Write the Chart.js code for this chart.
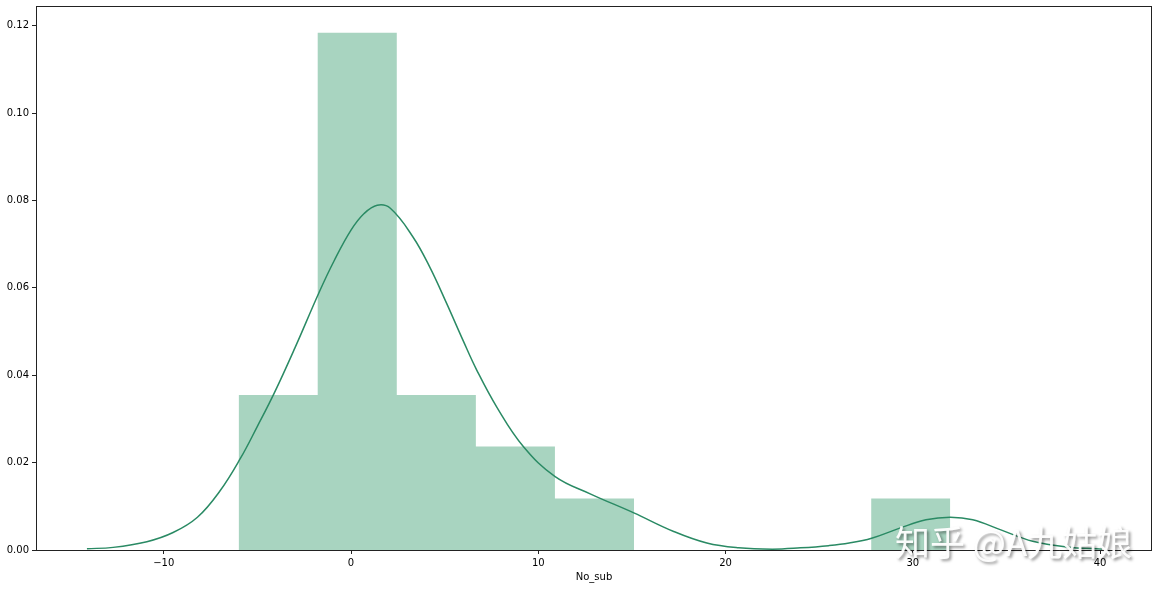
<!DOCTYPE html>
<html>
<head>
<meta charset="utf-8">
<script src="https://cdn.jsdelivr.net/npm/chart.js@4/dist/chart.umd.min.js"></script>
<style>
    html, body { margin: 0; padding: 0; background: #fff; }
    #wrap { width: 1159px; height: 589px; }
</style>
</head>
<body>
<div id="wrap"><canvas id="distChart"></canvas></div>
<script>
// histogram: bin edges and densities
const binEdges = [-6, -1.778, 2.444, 6.667, 10.889, 15.111, 19.333, 23.556, 27.778, 32];
const binDensity = [0.0355, 0.1184, 0.0355, 0.0237, 0.0118, 0, 0, 0, 0.0118];

// kde curve
const kdeX = [-14.1, -12.7, -10.9, -9.5, -8.2, -7.0, -5.9, -5.0, -4.1, -3.0, -1.7, -0.9, 0, 0.7, 1.4, 2.1, 3.3, 4.2, 5.1, 6.0, 6.7, 7.8, 9.2, 10.9, 12.8, 15.1, 17.2, 19.0, 20.7, 22.5, 24.0, 25.5, 26.6, 27.8, 29.3, 30.7, 32.0, 33.2, 34.7, 36.4, 38.2, 40.1];
const kdeY = [0.0003, 0.0006, 0.0019, 0.004, 0.0075, 0.0135, 0.021, 0.0283, 0.0359, 0.0462, 0.059, 0.0662, 0.0732, 0.077, 0.0789, 0.0782, 0.0717, 0.0648, 0.0565, 0.0478, 0.0413, 0.0326, 0.0237, 0.0168, 0.0128, 0.0085, 0.0043, 0.0016, 0.0005, 0.0002, 0.0005, 0.001, 0.0016, 0.0027, 0.005, 0.0069, 0.0075, 0.0069, 0.0046, 0.002, 0.0007, 0.0002];

const xTicks = [-10, 0, 10, 20, 30, 40];
const xLabel = "No_sub";
const watermark = "知乎 @A九姑娘";

// build stepped outline for the bars
const histPoints = [{ x: binEdges[0], y: 0 }];
binDensity.forEach((d, i) => {
    histPoints.push({ x: binEdges[i], y: d });
});
histPoints.push({ x: binEdges[binEdges.length - 1], y: binDensity[binDensity.length - 1] });
histPoints.push({ x: binEdges[binEdges.length - 1], y: 0 });

const kdePoints = kdeX.map((x, i) => ({ x: x, y: kdeY[i] }));

const frameAndMark = {
    id: "frameAndMark",
    afterDraw(chart) {
        const ctx = chart.ctx;
        const a = chart.chartArea;
        ctx.save();
        ctx.strokeStyle = "#222";
        ctx.lineWidth = 1;
        ctx.strokeRect(Math.round(a.left) + 0.5, Math.round(a.top) + 0.5,
            Math.round(a.right - a.left) - 1, Math.round(a.bottom - a.top));

        // watermark
        ctx.font = "35px 'Noto Sans CJK SC', sans-serif";
        ctx.textBaseline = "alphabetic";
        ctx.shadowColor = "rgba(0,0,0,0.45)";
        ctx.shadowOffsetX = 2;
        ctx.shadowOffsetY = 2;
        ctx.shadowBlur = 3;
        ctx.fillStyle = "rgba(255,255,255,0.95)";
        ctx.fillText(watermark, 895, 556);
        ctx.restore();
    }
};

Chart.defaults.font.family = "'DejaVu Sans', sans-serif";
Chart.defaults.font.size = 10;
Chart.defaults.color = "#000";

new Chart(document.getElementById("distChart"), {
    type: "line",
    data: {
        datasets: [
            {
                label: "kde",
                data: kdePoints,
                borderColor: "#2a8a64",
                borderWidth: 1.5,
                pointRadius: 0,
                tension: 0.4,
                fill: false,
                order: 0
            },
            {
                label: "hist",
                data: histPoints,
                borderWidth: 0,
                borderColor: "rgba(0,0,0,0)",
                backgroundColor: "#a8d4c0",
                stepped: "before",
                pointRadius: 0,
                fill: "origin",
                order: 1
            }
        ]
    },
    options: {
        responsive: true,
        maintainAspectRatio: false,
        animation: false,
        layout: { padding: { top: 6, right: 7, left: 0, bottom: 0 } },
        plugins: {
            legend: { display: false },
            tooltip: { enabled: false }
        },
        scales: {
            x: {
                type: "linear",
                min: -16.82,
                max: 42.77,
                grid: { drawOnChartArea: false, tickLength: 4, color: "#222" },
                border: { display: false },
                afterFit(scale) {
                    scale.height = 39;
                    scale.paddingLeft = 0;
                    scale.paddingRight = 0;
                },
                afterBuildTicks(scale) {
                    scale.ticks = xTicks.map(v => ({ value: v }));
                },
                ticks: {
                    padding: 3,
                    maxRotation: 0,
                    callback: v => (v < 0 ? "\u2212" + Math.abs(v) : String(v))
                },
                title: {
                    display: true,
                    text: xLabel,
                    padding: { top: 0, bottom: 6 }
                }
            },
            y: {
                min: 0,
                max: 0.1245,
                grid: { drawOnChartArea: false, tickLength: 4, color: "#222" },
                border: { display: false },
                afterFit(scale) {
                    scale.width = 36;
                    scale.paddingTop = 0;
                    scale.paddingBottom = 0;
                },
                ticks: {
                    stepSize: 0.02,
                    includeBounds: false,
                    padding: 3,
                    callback: v => v.toFixed(2)
                }
            }
        }
    },
    plugins: [frameAndMark]
});
</script>
</body>
</html>
